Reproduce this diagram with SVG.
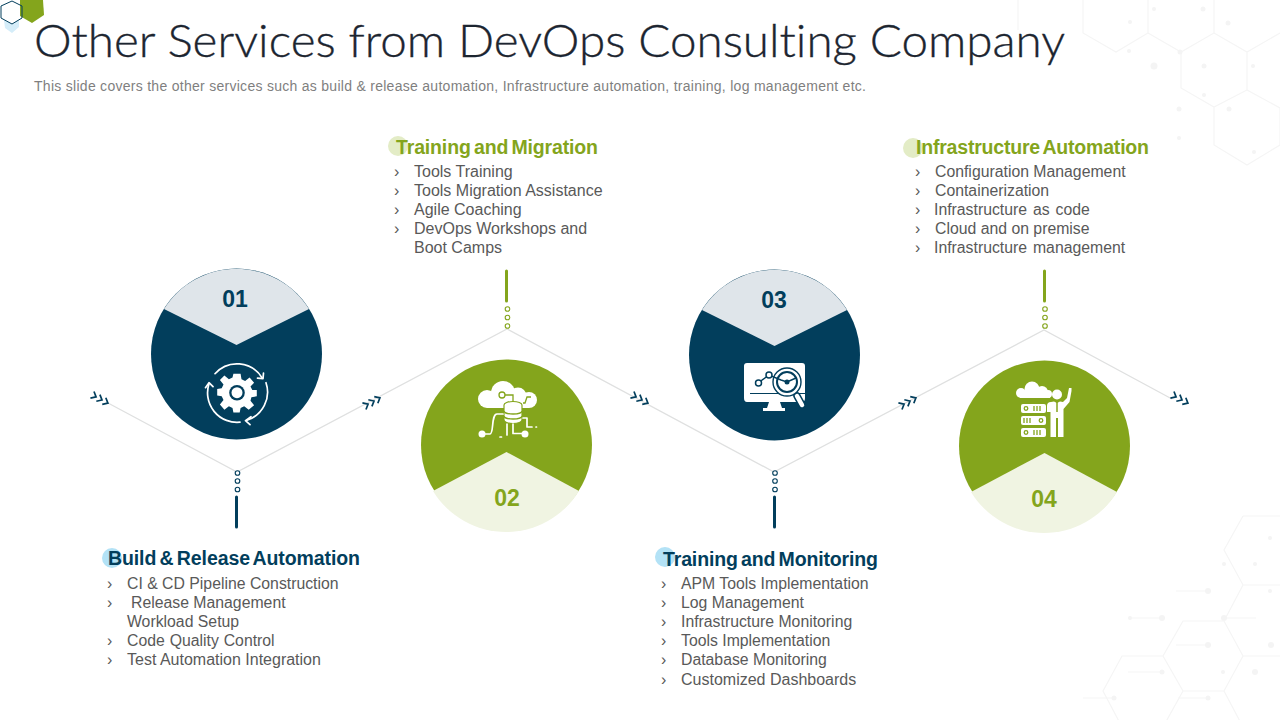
<svg xmlns="http://www.w3.org/2000/svg" width="1280" height="720" viewBox="0 0 1280 720">
<style>
.bg{fill:none;stroke:#f5f5f5;stroke-width:1.2}
.dot{fill:#f4f4f4}
.title{font:300 46px Lato,"Liberation Sans",sans-serif;fill:#1c2530;stroke:#1c2530;stroke-width:.35;font-variant-ligatures:none}
.sub{font:14px "Liberation Sans",Arial,sans-serif;fill:#7f7f7f}
.h{font:bold 19.500px "Liberation Sans",Arial,sans-serif;word-spacing:-2px}
.it{font:15.800px "Liberation Sans",Arial,sans-serif;fill:#595959}
.it16{font-size:16px}
.num{font:bold 23px "Liberation Sans",Arial,sans-serif;text-anchor:middle}
.navy{fill:#023e5c}.green{fill:#84a51c}
.conn{fill:none;stroke:#dfe0e0;stroke-width:1.3}
.chev{fill:none;stroke:#023e5c;stroke-width:1.700}
.ring{fill:#fff;stroke-width:1.100}
.w{fill:#fff}.wl{fill:none;stroke:#fff;stroke-width:1.700;stroke-linecap:round;stroke-linejoin:round}
.gl{fill:none;stroke:#84a51c;stroke-width:1.300}
.nl{fill:none;stroke:#023e5c;stroke-width:1.400}
</style>
<defs>
<g id="chevs"><path class="chev" d="M-11.100-3.800L-6.700 0-11.100 3.800M-4.400-3.800L0 0-4.400 3.800M2.300-3.800L6.700 0 2.300 3.800"/></g>
</defs>
<g id="background">
<path class="bg" d="M1083 0V33L1116 52 1148 33V0M1148 33L1181 52 1214 33V0M1214 33L1247 52 1280 33M1181 52V88L1214 107 1247 90V52M1214 107V145L1247 165 1280 145V108L1247 90M1018 0V30"/>
<path class="bg" d="M1183 621H1224L1243 656 1224 691H1183L1163 656ZM1163 656H1122L1103 691 1122 727M1183 691L1163 727M1243 516H1280M1243 516L1224 550 1243 585H1280M1243 585L1224 621M1243 656H1280M1224 691L1243 727"/>
<path class="bg" d="M1176 591H1208M1130 618H1162M1224 618H1256M1176 645H1208M1128 672H1162M1178 698H1208M1083 698H1114"/>
<g class="dot"><circle cx="1130" cy="22" r="2"/><circle cx="1154" cy="9" r="2"/><circle cx="1203" cy="9" r="2.500"/><circle cx="1228" cy="23" r="2.500"/><circle cx="1129" cy="51" r="2"/><circle cx="1180" cy="52" r="2.500"/><circle cx="1154" cy="66" r="3.500"/><circle cx="1204" cy="66" r="2.500"/><circle cx="1253" cy="66" r="2"/><circle cx="1204" cy="95" r="2"/><circle cx="1179" cy="109" r="2.500"/><circle cx="1229" cy="109" r="2.500"/><circle cx="1179" cy="138" r="2"/><circle cx="1254" cy="152" r="2"/>
<circle cx="1208" cy="591" r="3"/><circle cx="1162" cy="618" r="3"/><circle cx="1224" cy="618" r="3"/><circle cx="1130" cy="618" r="2"/><circle cx="1208" cy="645" r="3"/><circle cx="1271" cy="645" r="3"/><circle cx="1162" cy="672" r="2.500"/><circle cx="1223" cy="672" r="2"/><circle cx="1255" cy="672" r="3"/><circle cx="1114" cy="698" r="2.500"/><circle cx="1208" cy="698" r="2.500"/><circle cx="1270" cy="538" r="2"/><circle cx="1224" cy="564" r="2"/><circle cx="1255" cy="564" r="2"/><circle cx="1270" cy="591" r="2"/></g>
</g>
<g id="corner-hexes">
<path d="M4 20 12 24 19 20V27L12 33 5 28Z" fill="#d5edf9"/>
<path d="M20 0H43L44 15 32 23 20 16Z" class="green"/>
<path d="M12 1 22 6V18L12 24 1 18V6Z" fill="none" stroke="#023e5c" stroke-width="1"/>
</g>
<text class="title" x="34" y="57" textLength="1031" lengthAdjust="spacingAndGlyphs">Other Services from DevOps Consulting Company</text>
<text class="sub" x="34" y="91" textLength="832">This slide covers the other services such as build &amp; release automation, Infrastructure automation, training, log management etc.</text>
<g id="connectors">
<path class="conn" d="M108 403L237 472 507 329 774 472 1044 330 1172 399"/>
<use href="#chevs" transform="translate(102 400) rotate(28)"/>
<use href="#chevs" transform="translate(374 401) rotate(-28)"/>
<use href="#chevs" transform="translate(642 400) rotate(28)"/>
<use href="#chevs" transform="translate(910 401) rotate(-28)"/>
<use href="#chevs" transform="translate(1182 400) rotate(28)"/>
<g fill="none"><path d="M236.500 497V527" stroke="#023e5c" stroke-width="3" stroke-linecap="round"/><path d="M506.500 271V301" stroke="#84a51c" stroke-width="3" stroke-linecap="round"/><path d="M774.500 497V527" stroke="#023e5c" stroke-width="3" stroke-linecap="round"/><path d="M1044.500 271V301" stroke="#84a51c" stroke-width="3" stroke-linecap="round"/></g>
<g class="ring" stroke="#023e5c"><circle cx="237.500" cy="473" r="2.300"/><circle cx="237.500" cy="481" r="2.300"/><circle cx="237.500" cy="489.500" r="2.300"/><circle cx="775" cy="473" r="2.300"/><circle cx="775" cy="481" r="2.300"/><circle cx="775" cy="489.500" r="2.300"/></g>
<g class="ring" stroke="#84a51c"><circle cx="507.500" cy="309" r="2.300"/><circle cx="507.500" cy="317.500" r="2.300"/><circle cx="507.500" cy="326" r="2.300"/><circle cx="1045" cy="309" r="2.300"/><circle cx="1045" cy="317.500" r="2.300"/><circle cx="1045" cy="326" r="2.300"/></g>
</g>
<g id="node-01">
<circle cx="236.500" cy="354" r="85.500" class="navy"/>
<path d="M164 309A85.500 85.500 0 0 1 309 309L236.500 345Z" fill="#dfe5ea"/>
<text class="num navy" x="235" y="307">01</text>
<g transform="translate(237 392.700)">
<path class="w" transform="scale(.9)" d="M-4-21H4L5-15 9-13 14-17 19-11 15-7 17-3 22-3V4L16 5 15 9 19 14 13 19 8 15 4 17 3 22H-4L-5 17-9 15-14 19-19 13-15 8-17 4-22 3V-4L-17-5-15-9-19-14-14-19-9-15-5-17Z"/>
<circle r="7.800" class="navy"/><circle r="5.500" class="w"/>
<path class="wl" d="M-22-19A29.500 29.500 0 0 1 25-15M29-10A29.500 29.500 0 0 1 10 27.500M3 29.500A29.500 29.500 0 0 1-28-9"/>
<path class="wl" d="M20.500-14.500 26-14 26.500-19.500M14 24 8.500 28 13 32M-31.500-5-28-10-24-6"/>
</g>
</g>
<g id="node-02">
<circle cx="506.500" cy="445" r="85.500" class="green"/>
<path d="M433 491L506.500 452 579 491A85.500 85.500 0 0 1 433 491Z" fill="#f0f4e2"/>
<text class="num green" x="507" y="506">02</text>
<g>
<g class="w"><circle cx="487" cy="399" r="9"/><circle cx="503" cy="393" r="12"/><circle cx="518" cy="396" r="8.500"/><circle cx="529" cy="400" r="8"/><rect x="487" y="398" width="42" height="10"/></g>
<path class="w" d="M504 405A9 3.500 0 0 1 522 405V420A9 3.500 0 0 1 504 420Z" stroke="#84a51c" stroke-width="1.200"/>
<path class="gl" d="M504 411A9 3 0 0 0 522 411M504 416A9 3 0 0 0 522 416"/>
<circle cx="502" cy="395" r="3" class="gl"/>
<path class="gl" d="M505 395H513V402M523 403H525L527 397H531"/>
<circle cx="482" cy="434" r="3.500" class="w"/><circle cx="525" cy="434" r="3.500" class="w"/>
<path class="wl" d="M485 434H490C494 434 491 414 497 414H503M507 424V435M513 424V433.500H523M523 418H527V427H532M536 427H536.500M500 437H501.500"/>
</g>
</g>
<g id="node-03">
<circle cx="774.500" cy="355" r="85.500" class="navy"/>
<path d="M702 310A85.500 85.500 0 0 1 847 310L774.500 346Z" fill="#dfe5ea"/>
<text class="num navy" x="774" y="308">03</text>
<g>
<path class="w" d="M747 363H802Q805 363 805 366V398Q805 402 802 402H780L782 408H785V411H763V408H767L769 402H747Q744 402 744 398V366Q744 363 747 363Z"/>
<path d="M750 393.500H805" stroke="#023e5c" stroke-width="1.200"/>
<path d="M797 396L802 405" stroke="#023e5c" stroke-width="7.500" stroke-linecap="round"/>
<path d="M797 396L802 405" stroke="#fff" stroke-width="4.500" stroke-linecap="round"/>
<circle cx="787" cy="382" r="14" class="w" stroke="#023e5c" stroke-width="1.400"/>
<circle cx="787" cy="382" r="10" class="w" stroke="#023e5c" stroke-width="2"/>
<path class="nl" d="M758 383L769 375 781 380 787 382 796 378"/>
<circle cx="758.500" cy="383" r="3" class="w" stroke="#023e5c" stroke-width="1.500"/>
<circle cx="769" cy="375" r="3" class="w" stroke="#023e5c" stroke-width="1.500"/>
<circle cx="787" cy="382" r="2.500" class="navy"/>
</g>
</g>
<g id="node-04">
<circle cx="1044.500" cy="446" r="85.500" class="green"/>
<path d="M971 492L1044.500 453 1117 492A85.500 85.500 0 0 1 971 492Z" fill="#f0f4e2"/>
<text class="num green" x="1044" y="507">04</text>
<g>
<g class="w"><circle cx="1021" cy="393" r="5"/><circle cx="1032" cy="389" r="7.500"/><circle cx="1042" cy="392" r="6"/><rect x="1020" y="392" width="30" height="6"/><circle cx="1048" cy="394" r="4"/></g>
<rect x="1021" y="404" width="25" height="9" rx="2" class="w"/><rect x="1021" y="416" width="25" height="9" rx="2" class="w"/><rect x="1021" y="428" width="25" height="9" rx="2" class="w"/>
<g class="gl" stroke-width="1.200"><circle cx="1026" cy="408.500" r="1.800"/><circle cx="1041" cy="420.500" r="1.800"/><circle cx="1026" cy="432.500" r="1.800"/><path d="M1034 406V411M1037 406V411M1040 406V411M1024 418V423M1027 418V423M1030 418V423M1034 430V435M1037 430V435M1040 430V435"/></g>
<circle cx="1057" cy="394.500" r="5" class="w"/>
<path class="w" d="M1047 406Q1047 402 1051 402L1054 401.500 1057 403 1060 401.500 1063 402 1067 398 1069 388H1071.500V391L1069.500 402 1063.500 409V437H1058V418H1056V437H1050.500V412H1047Z"/>
<path d="M1057 402V412" stroke="#84a51c" stroke-width="1.500"/>
</g>
</g>
<g id="text-01">
<circle cx="112" cy="558" r="10" fill="#b3e2f6"/>
<text class="h navy" x="108" y="565" textLength="252">Build &amp; Release Automation</text>
<g class="it"><text x="107" y="589">›<tspan x="127">CI &amp; CD Pipeline Construction</tspan></text><text x="107" y="608">›<tspan x="131">Release Management</tspan></text><text x="127" y="627">Workload Setup</text><text x="107" y="646">›<tspan x="127" style="word-spacing:.5px">Code Quality  Control</tspan></text><text x="107" y="665" class="it16">›<tspan x="127">Test Automation Integration</tspan></text></g>
</g>
<g id="text-02">
<circle cx="398" cy="146" r="10" fill="#e3ecc6"/>
<text class="h green" x="396" y="154" textLength="202">Training and Migration</text>
<g class="it it16"><text x="394" y="177">›<tspan x="414">Tools Training</tspan></text><text x="394" y="196">›<tspan x="414">Tools Migration Assistance</tspan></text><text x="394" y="215">›<tspan x="414">Agile Coaching</tspan></text><text x="394" y="234">›<tspan x="414">DevOps Workshops and</tspan></text><text x="414" y="253">Boot Camps</text></g>
</g>
<g id="text-03">
<circle cx="665" cy="557" r="10" fill="#b3e2f6"/>
<text class="h navy" x="663" y="566" textLength="215">Training and Monitoring</text>
<g class="it"><text x="661" y="589">›<tspan x="681">APM Tools Implementation</tspan></text><text x="661" y="608">›<tspan x="681">Log Management</tspan></text><text x="661" y="627">›<tspan x="681">Infrastructure  Monitoring</tspan></text><text x="661" y="646">›<tspan x="681">Tools Implementation</tspan></text><text x="661" y="665">›<tspan x="681">Database Monitoring</tspan></text><text x="661" y="685" class="it16">›<tspan x="681">Customized Dashboards</tspan></text></g>
</g>
<g id="text-04">
<circle cx="913" cy="148" r="10" fill="#e3ecc6"/>
<text class="h green" x="916" y="154" textLength="233">Infrastructure Automation</text>
<g class="it"><text x="915" y="177">›<tspan x="935">Configuration Management</tspan></text><text x="915" y="196">›<tspan x="935">Containerization</tspan></text><text x="915" y="215">›<tspan x="934" style="word-spacing:1.500px">Infrastructure  as code</tspan></text><text x="915" y="234">›<tspan x="935">Cloud and on premise</tspan></text><text x="915" y="253">›<tspan x="934" style="word-spacing:1.500px">Infrastructure  management</tspan></text></g>
</g>
</svg>
